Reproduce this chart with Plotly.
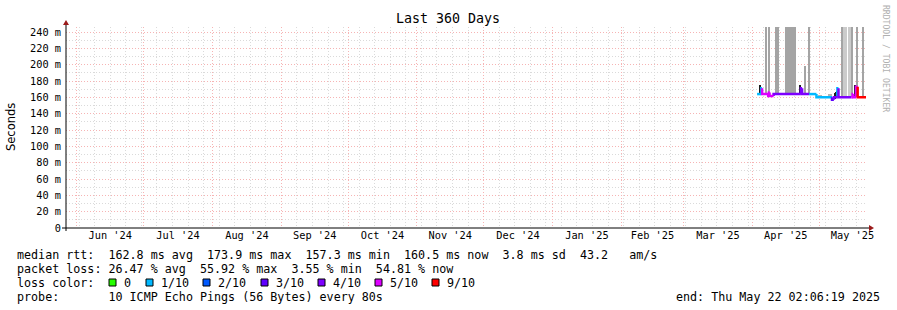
import pandas as pd
import plotly.graph_objects as go

# ---------------- data ----------------
START = "2024-05-27 02:06:19"
END = "2025-05-22 02:06:19"

# median RTT segments (each lasts until the next start); value in ms, loss index
MED_T = ["2025-04-03 02:00", "2025-04-05 00:00", "2025-04-05 08:00", "2025-04-08 02:00",
         "2025-04-08 10:00", "2025-04-08 16:00", "2025-04-10 12:00", "2025-04-22 19:00",
         "2025-04-23 08:00", "2025-04-26 12:00", "2025-04-29 19:00", "2025-05-06 19:00",
         "2025-05-07 15:00", "2025-05-09 05:00", "2025-05-09 17:00", "2025-05-15 14:00",
         "2025-05-16 02:00", "2025-05-16 08:00", "2025-05-17 14:00", "2025-05-18 08:00"]
MED_MS = [164, 171, 164, 161.5, 166, 161.5, 164, 171, 164, 164,
          160, 157, 160, 171, 160, 160, 164, 160, 173, 160]
MED_LOSS = [1, 1, 5, 5, 5, 5, 4, 4, 4, 1,
            1, 3, 4, 1, 4, 5, 5, 5, 5, 9]

# smoke (ping spread) bars: start, end, low ms, high ms, shade
SMOKE_T0 = ["2025-04-04 07:00", "2025-04-07 00:00", "2025-04-08 10:00", "2025-04-11 02:00",
            "2025-04-15 14:00", "2025-04-22 07:00", "2025-04-24 02:00", "2025-04-26 02:00",
            "2025-04-30 14:00", "2025-05-05 02:00", "2025-05-07 19:00", "2025-05-08 07:00",
            "2025-05-08 19:00", "2025-05-11 00:00", "2025-05-11 17:00", "2025-05-13 19:00",
            "2025-05-15 12:00", "2025-05-16 17:00", "2025-05-17 19:00", "2025-05-20 07:00"]
SMOKE_T1 = ["2025-04-04 22:00", "2025-04-07 15:00", "2025-04-08 20:00", "2025-04-12 22:00",
            "2025-04-20 12:00", "2025-04-22 19:00", "2025-04-25 00:00", "2025-04-26 12:00",
            "2025-05-02 02:00", "2025-05-06 14:00", "2025-05-08 00:00", "2025-05-08 12:00",
            "2025-05-09 05:00", "2025-05-11 12:00", "2025-05-13 14:00", "2025-05-15 07:00",
            "2025-05-16 02:00", "2025-05-17 14:00", "2025-05-18 12:00", "2025-05-21 05:00"]
SMOKE_LO = [164, 164, 162, 164, 164, 164, 164, 164, 159, 159,
            158, 158, 160, 160, 160, 160, 160, 160, 172, 160]
SMOKE_HI = [175, 300, 300, 300, 300, 175, 198, 300, 163, 164,
            165, 166, 168, 300, 300, 300, 300, 175, 300, 300]
SMOKE_SHADE = ["k", "d", "d", "d", "d", "k", "d", "d", "m", "m",
               "k", "k", "k", "d", "l", "l", "d", "k", "d", "d"]

Y_TICKS_MS = [0, 20, 40, 60, 80, 100, 120, 140, 160, 180, 200, 220, 240]

LOSS_LABELS = ["0", "1/10", "2/10", "3/10", "4/10", "5/10", "9/10"]
LOSS_KEYS = [0, 1, 2, 3, 4, 5, 9]
LOSS_COLORS = ["#26ff00", "#00b8ff", "#0059ff", "#5e00ff", "#7e00ff", "#dd00ff", "#ff0000"]

LEGEND_LINES = [
    "median rtt:  162.8 ms avg  173.9 ms max  157.3 ms min  160.5 ms now  3.8 ms sd  43.2   am/s",
    "packet loss: 26.47 % avg  55.92 % max  3.55 % min  54.81 % now",
    "loss color:",
    "probe:       10 ICMP Echo Pings (56 Bytes) every 80s",
]
END_TEXT = "end: Thu May 22 02:06:19 2025"

# ---------------- geometry ----------------
W, H = 897, 310
PL, PR, PT, PB = 66, 866, 27, 228


def px2x(px):
    return (px - PL) / (PR - PL)


def py2y(py):
    return (PB - py) / (PB - PT)


MONO = "DejaVu Sans Mono"
SHADES = {"d": "#a4a4a4", "l": "#cbcbcb", "m": "#b4b4b4", "k": "#1e1e1e"}
COLOR_OF = dict(zip(LOSS_KEYS, LOSS_COLORS))
MAJOR_GRID = "#f6b4b4"
MINOR_GRID = "#dadada"
DOTS = "1px,2px"

fig = go.Figure()

# smoke bars
t0 = pd.to_datetime(SMOKE_T0)
t1 = pd.to_datetime(SMOKE_T1)
centers = t0 + (t1 - t0) / 2
widths = [(b - a).total_seconds() * 1000 for a, b in zip(t0, t1)]
fig.add_trace(go.Bar(
    x=centers, base=[v / 1000 for v in SMOKE_LO],
    y=[(h - l) / 1000 for l, h in zip(SMOKE_LO, SMOKE_HI)],
    width=widths, marker=dict(color=[SHADES[s] for s in SMOKE_SHADE], line=dict(width=0)),
    showlegend=False, hoverinfo="skip"))

# median line, coloured by loss
starts = list(pd.to_datetime(MED_T))
ends = starts[1:] + [pd.to_datetime(END)]
seg_x = {k: [] for k in LOSS_KEYS}
seg_y = {k: [] for k in LOSS_KEYS}
prev = None
for s, e, v, lk in zip(starts, ends, MED_MS, MED_LOSS):
    xs, ys = [], []
    if prev is not None:
        xs.append(s); ys.append(prev / 1000)
    xs += [s, e]; ys += [v / 1000, v / 1000]
    seg_x[lk] += xs + [None]
    seg_y[lk] += ys + [None]
    prev = v
for lk in LOSS_KEYS:
    if seg_x[lk]:
        fig.add_trace(go.Scatter(x=seg_x[lk], y=seg_y[lk], mode="lines",
                                 line=dict(color=COLOR_OF[lk], width=2.5),
                                 connectgaps=False, showlegend=False, hoverinfo="skip"))

fig.update_layout(
    width=W, height=H, margin=dict(l=PL, r=W - PR, t=PT, b=H - PB, pad=0),
    paper_bgcolor="white", plot_bgcolor="white", barmode="overlay", bargap=0,
    font=dict(family=MONO, size=10.3, color="black"),
    showlegend=False,
)
fig.update_xaxes(
    type="date", range=[START, END], showline=False, zeroline=False,
    tick0="2024-06-01", dtick="M1", tickformat="%b '%y", ticklabelmode="period",
    ticks="", showgrid=True, gridcolor=MAJOR_GRID, griddash=DOTS, gridwidth=1,
    tickfont=dict(family=MONO, size=10.3, color="black"),
    minor=dict(tick0="2024-06-02", dtick=7 * 86400000, showgrid=True,
               gridcolor=MINOR_GRID, griddash=DOTS, gridwidth=1, ticks=""),
)
fig.update_yaxes(
    range=[0, (PB - PT) / 196 * 0.240], showline=False, zeroline=False,
    tickmode="array", tickvals=[v / 1000 for v in Y_TICKS_MS],
    ticktext=["0" if v == 0 else f"{v} m" for v in Y_TICKS_MS],
    ticks="", showgrid=True, gridcolor=MAJOR_GRID, griddash=DOTS, gridwidth=1,
    tickfont=dict(family=MONO, size=10.3, color="black"), ticklabelstandoff=4,
    minor=dict(tickmode="linear", tick0=0, dtick=0.01, showgrid=True,
               gridcolor=MINOR_GRID, griddash=DOTS, gridwidth=1, ticks=""),
)

shapes = []
# axis lines with arrows
shapes.append(dict(type="line", xref="paper", yref="paper", x0=px2x(62), x1=px2x(869),
                   y0=0, y1=0, line=dict(color="black", width=1)))
shapes.append(dict(type="line", xref="paper", yref="paper", x0=0, x1=0,
                   y0=py2y(231), y1=py2y(24), line=dict(color="black", width=1)))
shapes.append(dict(type="path", xref="paper", yref="paper",
                   path=f"M {px2x(869)},{py2y(225)} L {px2x(874)},{py2y(228)} L {px2x(869)},{py2y(231)} Z",
                   fillcolor="#9b1b1b", line=dict(width=0)))
shapes.append(dict(type="path", xref="paper", yref="paper",
                   path=f"M {px2x(63)},{py2y(25)} L {px2x(66)},{py2y(20)} L {px2x(69)},{py2y(25)} Z",
                   fillcolor="#9b1b1b", line=dict(width=0)))

annotations = []
annotations.append(dict(text="Last 360 Days", xref="paper", yref="paper", x=px2x(448), y=py2y(19),
                        showarrow=False, font=dict(family=MONO, size=13.3, color="black"),
                        xanchor="center", yanchor="middle"))
annotations.append(dict(text="Seconds", xref="paper", yref="paper", x=px2x(11), y=py2y(127),
                        showarrow=False, textangle=-90, font=dict(family="DejaVu Sans", size=11.5, color="black"),
                        xanchor="center", yanchor="middle"))
annotations.append(dict(text="RRDTOOL / TOBI OETIKER", xref="paper", yref="paper", x=px2x(886), y=py2y(59),
                        showarrow=False, textangle=90, font=dict(family=MONO, size=8.1, color="#b0b0b0"),
                        xanchor="center", yanchor="middle"))

LINE_Y = [255, 268.5, 282.5, 296.5]
for txt, yy in zip(LEGEND_LINES, LINE_Y):
    annotations.append(dict(text=txt.replace(" ", "&nbsp;"), xref="paper", yref="paper", x=px2x(15), y=py2y(yy),
                            showarrow=False, xanchor="left", yanchor="middle",
                            font=dict(family=MONO, size=11.7, color="black")))
annotations.append(dict(text=END_TEXT.replace(" ", "&nbsp;"), xref="paper", yref="paper", x=px2x(882), y=py2y(296.5),
                        showarrow=False, xanchor="right", yanchor="middle",
                        font=dict(family=MONO, size=11.7, color="black")))

SQ_X = [109, 146, 203, 261, 318, 375, 432]
for sx, lab, col in zip(SQ_X, LOSS_LABELS, LOSS_COLORS):
    shapes.append(dict(type="rect", xref="paper", yref="paper",
                       x0=px2x(sx), x1=px2x(sx + 7), y0=py2y(286), y1=py2y(279),
                       fillcolor=col, line=dict(color="black", width=1)))
    annotations.append(dict(text=lab, xref="paper", yref="paper", x=px2x(sx + 12.5), y=py2y(282.5),
                            showarrow=False, xanchor="left", yanchor="middle",
                            font=dict(family=MONO, size=11.7, color="black")))

fig.update_layout(shapes=shapes, annotations=annotations)
fig.write_html("out.html")
